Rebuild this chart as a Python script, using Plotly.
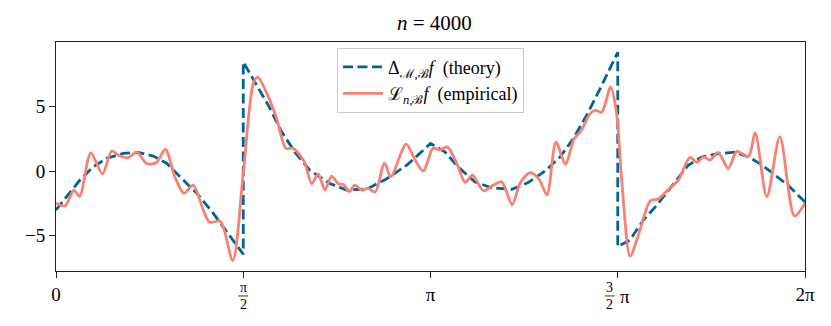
import numpy as np
import plotly.graph_objects as go

# x positions are given as multiples of pi
theory_x = [0.0, 0.0286, 0.064, 0.0996, 0.135, 0.180, 0.220, 0.260, 0.296, 0.331, 0.376,
            0.420, 0.465, 0.496, 0.5, 0.5, 0.531, 0.567, 0.603, 0.638, 0.678, 0.732, 0.776,
            0.830, 0.883, 0.936, 0.967, 1.0, 1.039, 1.074, 1.119, 1.163, 1.217, 1.261, 1.306,
            1.346, 1.381, 1.417, 1.453, 1.479, 1.5, 1.5, 1.532, 1.568, 1.604, 1.639, 1.688,
            1.724, 1.768, 1.813, 1.849, 1.884, 1.920, 1.955, 2.0]
theory_y = [-3.02, -1.99, -0.7, 0.33, 0.98, 1.37, 1.45, 1.16, 0.59, -0.44, -1.73,
            -3.28, -5.09, -6.38, -6.45, 8.45, 6.9, 5.09, 3.02, 1.47, 0.05, -0.98, -1.47,
            -1.4, -0.6, 0.44, 1.25, 2.14, 1.47, 0.31, -0.85, -1.3, -1.42, -0.9, 0.0,
            1.09, 2.5, 4.32, 6.38, 7.93, 9.2, -5.85, -5.37, -3.82, -2.66, -1.37, 0.44,
            1.09, 1.34, 1.47, 1.09, 0.49, -0.33, -1.11, -2.4]

emp_x = [0.0, 0.024, 0.048, 0.063, 0.093, 0.124, 0.149, 0.167, 0.192, 0.216, 0.243,
         0.269, 0.292, 0.318, 0.342, 0.366, 0.393, 0.410, 0.439, 0.472, 0.500, 0.527,
         0.539, 0.563, 0.589, 0.614, 0.632, 0.652, 0.665, 0.683, 0.700, 0.718, 0.736,
         0.754, 0.767, 0.783, 0.798, 0.816, 0.834, 0.852, 0.877, 0.894, 0.935, 0.959,
         0.981, 1.007, 1.025, 1.045, 1.070, 1.093, 1.112, 1.141, 1.168, 1.190, 1.218,
         1.240, 1.267, 1.290, 1.311, 1.335, 1.360, 1.383, 1.404, 1.426, 1.441, 1.457,
         1.481, 1.497, 1.511, 1.533, 1.555, 1.587, 1.608, 1.633, 1.662, 1.693, 1.712,
         1.729, 1.746, 1.768, 1.795, 1.818, 1.849, 1.867, 1.898, 1.933, 1.972, 2.0]
emp_y = [-2.5, -2.7, -1.48, -1.97, 1.41, -0.22, 1.55, 1.22, 1.03, 1.46, 0.55,
         0.68, 1.7, -0.5, -1.72, -1.1, -3.0, -3.97, -3.9, -6.94, -0.18, 6.8,
         7.28, 6.02, 4.09, 1.75, 1.77, 1.2, 0.6, -1.0, -0.23, -1.47, -0.39,
         -1.0, -1.03, -1.6, -1.09, -1.47, -1.34, -1.65, 0.59, -0.44, 2.09, 0.85,
         0.0, 1.77, 1.63, 1.87, 0.59, -0.88, -0.32, -1.52, -1.09, -0.84, -2.6,
         -0.9, -0.13, -0.65, -1.85, 2.24, 0.54, 2.45, 3.2, 4.45, 4.7, 4.55,
         6.52, 4.44, -0.85, -6.6, -4.98, -2.3, -2.17, -1.5, -0.7, 1.05, 0.67,
         1.1, 0.84, 1.45, 0.2, 1.52, 1.12, 2.95, -2.0, 2.65, -3.49, -2.5]

x_ticks = [0, 0.5, 1.0, 1.5, 2.0]
x_tick_labels = ["0", "", "π", "", "2π"]
# fraction labels drawn as stacked numerator / denominator
frac_ticks = [0.5, 1.5]
frac_num = ["π", "3"]
frac_den = ["2", "2"]
frac_suffix = ["", "π"]
y_ticks = [-5, 0, 5]
y_tick_labels = ["−5", "0", "5"]

font = "Liberation Serif, DejaVu Serif, serif"

fig = go.Figure()
fig.add_trace(go.Scatter(
    x=np.pi * np.array(theory_x), y=theory_y, mode="lines",
    line=dict(color="#00649a", width=2.8, dash="10px,4.5px"),
    name="Δ<sub>ℳ,ℬ</sub><i>f</i>  (theory)",
))
fig.add_trace(go.Scatter(
    x=np.pi * np.array(emp_x), y=emp_y, mode="lines",
    line=dict(color="#fa8072", width=2.8, shape="spline", smoothing=0.8),
    name="ℒ<sub><i>n</i>,ℬ</sub><i>f</i>  (empirical)",
))

# stacked fraction tick labels
for t, num, den, suf in zip(frac_ticks, frac_num, frac_den, frac_suffix):
    dx = -8 if suf else 0
    xv = np.pi * t
    fig.add_annotation(x=xv, y=-0.07, xref="x", yref="paper", text=num, showarrow=False,
                       xshift=dx, yanchor="middle", font=dict(size=14))
    fig.add_annotation(x=xv, y=-0.148, xref="x", yref="paper", text=den, showarrow=False,
                       xshift=dx, yanchor="middle", font=dict(size=14))
    fig.add_shape(type="line", xref="x", yref="paper", x0=dx - 5, x1=dx + 5, y0=-0.109, y1=-0.109,
                  xsizemode="pixel", xanchor=xv, line=dict(color="black", width=0.8))
    if suf:
        fig.add_annotation(x=xv, y=-0.112, xref="x", yref="paper", text=suf, showarrow=False,
                           xshift=7, yanchor="middle", font=dict(size=19))

# page body adds an 8px margin, so the figure is sized and placed to offset it
fig.update_layout(
    width=823, height=318,
    margin=dict(l=48, r=26, t=34, b=55, autoexpand=False),
    plot_bgcolor="white", paper_bgcolor="white",
    font=dict(family=font, size=19, color="black"),
    title=dict(text="<i>n</i> = 4000", x=0.518, xanchor="center", y=0.955, yanchor="middle",
               yref="container", font=dict(size=21)),
    showlegend=True,
    legend=dict(x=0.5, xanchor="center", y=0.975, yanchor="top",
                bgcolor="rgba(255,255,255,0.8)", bordercolor="#cccccc", borderwidth=1,
                font=dict(size=18), tracegroupgap=0, itemwidth=40),
)
fig.update_xaxes(
    range=[0, 2 * np.pi], tickvals=np.pi * np.array(x_ticks), ticktext=x_tick_labels,
    showline=True, linecolor="#222", linewidth=1, mirror=True, automargin=False,
    ticks="outside", ticklen=6, tickcolor="#222", showgrid=False, zeroline=False,
)
fig.update_yaxes(
    range=[-7.75, 10.0], tickvals=y_ticks, ticktext=y_tick_labels,
    showline=True, linecolor="#222", linewidth=1, mirror=True, automargin=False,
    ticks="outside", ticklen=6, tickcolor="#222", showgrid=False, zeroline=False,
)

fig.write_html("out.html")
